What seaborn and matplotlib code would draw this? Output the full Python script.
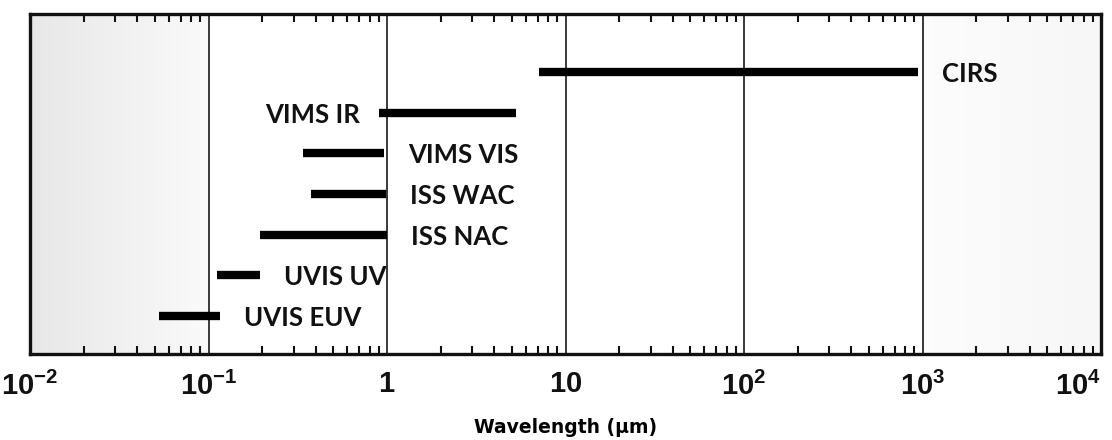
import numpy as np
import pandas as pd
import matplotlib
matplotlib.use("Agg")
import matplotlib.pyplot as plt
from matplotlib.ticker import LogLocator, NullFormatter, FixedLocator, FixedFormatter
import seaborn as sns

# ---------------- data ----------------
instruments = ["CIRS", "VIMS IR", "VIMS VIS", "ISS WAC", "ISS NAC", "UVIS UV", "UVIS EUV"]
wl_start = [7.1, 0.90, 0.34, 0.376, 0.195, 0.112, 0.053]   # micrometres
wl_end = [948, 5.27, 0.96, 0.99, 1.0, 0.195, 0.116]         # micrometres
label_side = ["right", "left", "right", "right", "right", "right", "right"]

tick_values = [1e-2, 1e-1, 1, 10, 1e2, 1e3, 1e4]
tick_labels = [r"$10^{-2}$", r"$10^{-1}$", r"$1$", r"$10$", r"$10^{2}$", r"$10^{3}$", r"$10^{4}$"]
shaded_ranges = [(1e-2, 1e-1), (1e3, 1e4)]
shade_levels = [(0.905, 0.975), (0.985, 0.965)]   # grey level at start / end of each band

# ---------------- style ----------------
sns.set_theme(style="white")
plt.rcParams["font.family"] = ["Lato", "DejaVu Sans"]
plt.rcParams["mathtext.fontset"] = "custom"
plt.rcParams["mathtext.rm"] = "Liberation Sans:bold"
plt.rcParams["mathtext.bf"] = "Liberation Sans:bold"
plt.rcParams["mathtext.it"] = "Liberation Sans:bold"

rows = list(range(len(instruments)))
df = pd.DataFrame({
    "instrument": np.repeat(instruments, 2),
    "row": np.repeat(rows, 2),
    "wavelength": np.ravel(np.column_stack([wl_start, wl_end])),
})

fig = plt.figure(figsize=(11.12, 4.40), dpi=100)
ax = fig.add_axes([30 / 1112, 1 - 354 / 440, (1101 - 30) / 1112, (354 - 14) / 440])
ax.set_xscale("log")

# background shading bands (gradient)
for (x0, x1), (g0, g1) in zip(shaded_ranges, shade_levels):
    xe = np.logspace(np.log10(x0), np.log10(x1), 40)
    vals = np.linspace(g0, g1, len(xe) - 1)[None, :]
    ax.pcolormesh(xe, [-5, 15], vals, cmap="gray", vmin=0, vmax=1,
                  shading="flat", zorder=0, rasterized=True)

sns.lineplot(data=df, x="wavelength", y="row", units="instrument", estimator=None,
             sort=False, color="black", lw=6.0, solid_capstyle="butt", ax=ax,
             legend=False, zorder=3)

ax.set_xlim(1e-2, 1e4)
ax.set_ylim(6 + 38 / 40.67, -58 / 40.67)

# labels
for name, r, s, e, side in zip(instruments, rows, wl_start, wl_end, label_side):
    if side == "right":
        ax.annotate(name, xy=(e, r), xytext=(24, -2), textcoords="offset pixels",
                    ha="left", va="center", fontsize=18.5, fontweight="bold",
                    color="#111111", zorder=4)
    else:
        ax.annotate(name, xy=(s, r), xytext=(-19, -2), textcoords="offset pixels",
                    ha="right", va="center", fontsize=18.5, fontweight="bold",
                    color="#111111", zorder=4)

# axes decoration
ax.xaxis.set_major_locator(FixedLocator(tick_values))
ax.xaxis.set_major_formatter(FixedFormatter(tick_labels))
ax.xaxis.set_minor_locator(LogLocator(base=10, subs=np.arange(2, 10)))
ax.xaxis.set_minor_formatter(NullFormatter())
ax.grid(axis="x", which="major", color="#2a2a2a", lw=1.3, zorder=2)
ax.grid(axis="y", visible=False)
ax.tick_params(axis="x", which="major", length=0, pad=12, labelsize=21,
               labelcolor="#111111")
ax.tick_params(axis="x", which="minor", direction="in", top=True, bottom=True,
               length=5.5, width=1.5, color="#111111")
ax.set_yticks([])
ax.set_ylabel("")
ax.get_xticklabels()[-1].set_horizontalalignment("right")

for sp in ax.spines.values():
    sp.set_visible(True)
    sp.set_color("#111111")
    sp.set_linewidth(2.4)
    sp.set_zorder(5)

ax.set_xlabel("Wavelength (µm)", family="DejaVu Sans", fontweight="heavy",
              fontsize=13.5, labelpad=13, color="#000000")

fig.savefig("out.png", dpi=100, facecolor="white")
